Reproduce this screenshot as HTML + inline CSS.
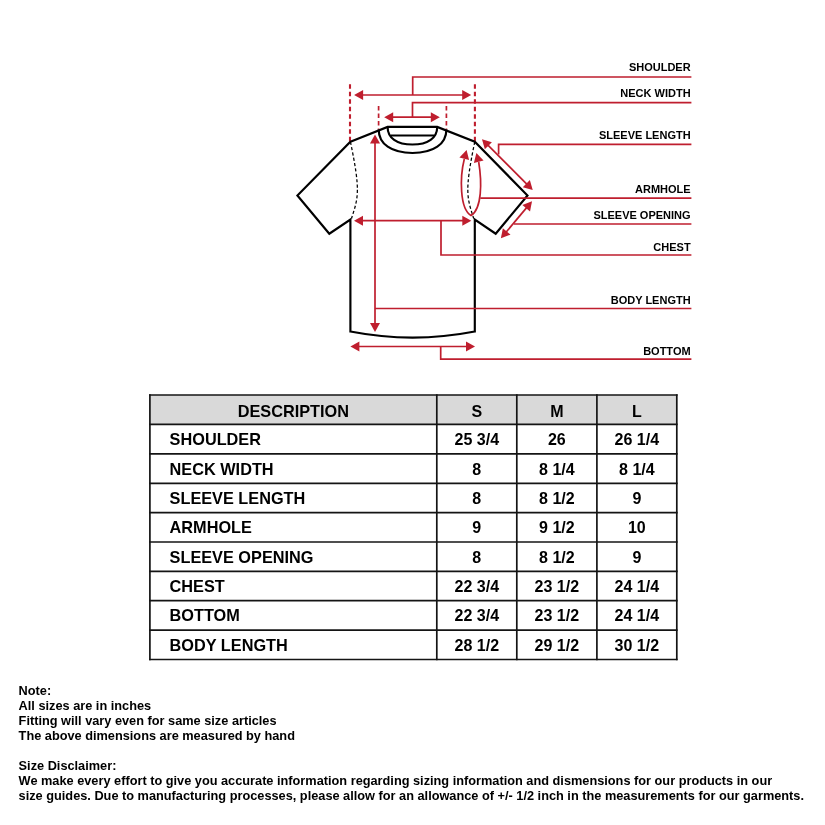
<!DOCTYPE html>
<html><head><meta charset="utf-8"><style>
html,body{margin:0;padding:0;background:#fff;width:825px;height:825px;overflow:hidden;position:relative}
body{will-change:transform}
*{font-family:"Liberation Sans",sans-serif;font-weight:bold;color:#000}
svg{position:absolute;left:0;top:0}
.lab{position:absolute;right:134.39999999999998px;font-size:11px;line-height:14px;height:14px;white-space:nowrap;color:#000}
.cell{position:absolute;font-size:16.3px;line-height:18px;white-space:nowrap;color:#000}
.c{text-align:center;font-size:16px}
.notes{position:absolute;left:18.6px;top:683px;font-size:12.75px;line-height:15px;white-space:nowrap;color:#000}
</style></head><body>
<svg width="825" height="825" viewBox="0 0 825 825">
<line x1="350.0" y1="84.3" x2="350.0" y2="141.5" stroke="#bf1e2e" stroke-width="2.1" stroke-dasharray="4.4 3.1"/><line x1="474.9" y1="84.3" x2="474.9" y2="141.5" stroke="#bf1e2e" stroke-width="2.1" stroke-dasharray="4.4 3.1"/><line x1="378.6" y1="106" x2="378.6" y2="129.5" stroke="#bf1e2e" stroke-width="1.7" stroke-dasharray="4.4 3.1"/><line x1="446.4" y1="106" x2="446.4" y2="129.5" stroke="#bf1e2e" stroke-width="1.7" stroke-dasharray="4.4 3.1"/><path d="M350.4,141.7 L387.6,126.9 L437.2,126.9 L474.8,141.7 L527.5,195.5 L495.7,233.7 L474.8,219.5 L474.8,331.5 Q412.6,343.6 350.4,331.5 L350.4,219.5 L329.3,233.7 L297.4,195.5 Z" fill="none" stroke="#000" stroke-width="2.15" stroke-linejoin="miter"/><path d="M387.6,126.9 C387.6,137.8 396.8,144.5 412.4,144.5 C428,144.5 437.2,137.8 437.2,126.9" fill="none" stroke="#000" stroke-width="2.15"/><path d="M378.7,129.5 C378.7,144.1 391.5,153 412.5,153 C433.5,153 446.4,144.1 446.4,129.5" fill="none" stroke="#000" stroke-width="2.15"/><line x1="391" y1="135.5" x2="434" y2="135.5" stroke="#000" stroke-width="2.15"/><path d="M350.4,141.7 C361,192 358,198 351.5,218.5" fill="none" stroke="#000" stroke-width="1.25" stroke-dasharray="3.2 2.2"/><path d="M474.8,141.7 C464.2,192 467.2,198 473.7,218.5" fill="none" stroke="#000" stroke-width="1.25" stroke-dasharray="3.2 2.2"/><line x1="362.10" y1="95.00" x2="463.20" y2="95.00" stroke="#bf1e2e" stroke-width="1.7"/><polygon points="354.10,95.00 363.10,90.00 363.10,100.00" fill="#bf1e2e"/><polygon points="471.20,95.00 462.20,100.00 462.20,90.00" fill="#bf1e2e"/><line x1="392.20" y1="117.20" x2="431.80" y2="117.20" stroke="#bf1e2e" stroke-width="1.7"/><polygon points="384.20,117.20 393.20,112.20 393.20,122.20" fill="#bf1e2e"/><polygon points="439.80,117.20 430.80,122.20 430.80,112.20" fill="#bf1e2e"/><line x1="375.00" y1="142.50" x2="375.00" y2="324.00" stroke="#bf1e2e" stroke-width="1.7"/><polygon points="375.00,134.50 380.00,143.50 370.00,143.50" fill="#bf1e2e"/><polygon points="375.00,332.00 370.00,323.00 380.00,323.00" fill="#bf1e2e"/><line x1="362.00" y1="220.70" x2="463.30" y2="220.70" stroke="#bf1e2e" stroke-width="1.7"/><polygon points="354.00,220.70 363.00,215.70 363.00,225.70" fill="#bf1e2e"/><polygon points="471.30,220.70 462.30,225.70 462.30,215.70" fill="#bf1e2e"/><line x1="358.40" y1="346.50" x2="467.00" y2="346.50" stroke="#bf1e2e" stroke-width="1.7"/><polygon points="350.40,346.50 359.40,341.50 359.40,351.50" fill="#bf1e2e"/><polygon points="475.00,346.50 466.00,351.50 466.00,341.50" fill="#bf1e2e"/><line x1="487.66" y1="144.96" x2="527.04" y2="184.34" stroke="#bf1e2e" stroke-width="1.7"/><polygon points="482.00,139.30 491.90,142.13 484.83,149.20" fill="#bf1e2e"/><polygon points="532.70,190.00 522.80,187.17 529.87,180.10" fill="#bf1e2e"/><line x1="526.85" y1="207.42" x2="506.05" y2="232.18" stroke="#bf1e2e" stroke-width="1.7"/><polygon points="532.00,201.30 530.04,211.41 522.38,204.97" fill="#bf1e2e"/><polygon points="500.90,238.30 502.86,228.19 510.52,234.63" fill="#bf1e2e"/><path d="M464.3,159 C459.8,177 459.5,209 471,215.5 C482,209 482,182 478.7,162" fill="none" stroke="#bf1e2e" stroke-width="1.7"/><polygon points="466.60,150.10 469.08,160.09 459.43,157.49" fill="#bf1e2e"/><polygon points="476.40,153.00 483.55,160.41 473.89,162.98" fill="#bf1e2e"/><polyline points="412.7,95 412.7,77 691.4,77" fill="none" stroke="#bf1e2e" stroke-width="1.7"/><polyline points="412.5,117.2 412.5,102.7 691.4,102.7" fill="none" stroke="#bf1e2e" stroke-width="1.7"/><polyline points="498.6,154.5 498.6,144.4 691.4,144.4" fill="none" stroke="#bf1e2e" stroke-width="1.7"/><polyline points="480.3,198.2 691.4,198.2" fill="none" stroke="#bf1e2e" stroke-width="1.7"/><polyline points="514,224 691.4,224" fill="none" stroke="#bf1e2e" stroke-width="1.7"/><polyline points="441,220.7 441,255 691.4,255" fill="none" stroke="#bf1e2e" stroke-width="1.7"/><polyline points="375,308.5 691.4,308.5" fill="none" stroke="#bf1e2e" stroke-width="1.7"/><polyline points="440.7,346.5 440.7,359.2 691.4,359.2" fill="none" stroke="#bf1e2e" stroke-width="1.7"/>
<rect x="149.9" y="395" width="526.9" height="29.30000000000001" fill="#d9d9d9"/><line x1="149.1" y1="395" x2="677.5999999999999" y2="395" stroke="#141414" stroke-width="1.7"/><line x1="149.1" y1="424.3" x2="677.5999999999999" y2="424.3" stroke="#141414" stroke-width="1.7"/><line x1="149.1" y1="453.8" x2="677.5999999999999" y2="453.8" stroke="#141414" stroke-width="1.7"/><line x1="149.1" y1="483.3" x2="677.5999999999999" y2="483.3" stroke="#141414" stroke-width="1.7"/><line x1="149.1" y1="512.6" x2="677.5999999999999" y2="512.6" stroke="#141414" stroke-width="1.7"/><line x1="149.1" y1="542" x2="677.5999999999999" y2="542" stroke="#141414" stroke-width="1.7"/><line x1="149.1" y1="571.3" x2="677.5999999999999" y2="571.3" stroke="#141414" stroke-width="1.7"/><line x1="149.1" y1="600.7" x2="677.5999999999999" y2="600.7" stroke="#141414" stroke-width="1.7"/><line x1="149.1" y1="630.2" x2="677.5999999999999" y2="630.2" stroke="#141414" stroke-width="1.7"/><line x1="149.1" y1="659.5" x2="677.5999999999999" y2="659.5" stroke="#141414" stroke-width="1.7"/><line x1="149.9" y1="394.2" x2="149.9" y2="660.3" stroke="#141414" stroke-width="1.7"/><line x1="436.8" y1="394.2" x2="436.8" y2="660.3" stroke="#141414" stroke-width="1.7"/><line x1="516.8" y1="394.2" x2="516.8" y2="660.3" stroke="#141414" stroke-width="1.7"/><line x1="596.9" y1="394.2" x2="596.9" y2="660.3" stroke="#141414" stroke-width="1.7"/><line x1="676.8" y1="394.2" x2="676.8" y2="660.3" stroke="#141414" stroke-width="1.7"/>
</svg>
<div class="lab" style="top:60px">SHOULDER</div><div class="lab" style="top:86px">NECK WIDTH</div><div class="lab" style="top:128px">SLEEVE LENGTH</div><div class="lab" style="top:182px">ARMHOLE</div><div class="lab" style="top:208px">SLEEVE OPENING</div><div class="lab" style="top:240px">CHEST</div><div class="lab" style="top:293px">BODY LENGTH</div><div class="lab" style="top:344px">BOTTOM</div>
<div class="cell c" style="left:149.9px;width:286.9px;top:402.04999999999995px;font-size:16.3px;">DESCRIPTION</div><div class="cell c" style="left:436.8px;width:79.99999999999994px;top:402.65px;">S</div><div class="cell c" style="left:516.8px;width:80.10000000000002px;top:402.65px;">M</div><div class="cell c" style="left:596.9px;width:79.89999999999998px;top:402.65px;">L</div><div class="cell" style="left:169.6px;top:430.05px">SHOULDER</div><div class="cell c" style="left:436.8px;width:79.99999999999994px;top:431.05px">25 3/4</div><div class="cell c" style="left:516.8px;width:80.10000000000002px;top:431.05px">26</div><div class="cell c" style="left:596.9px;width:79.89999999999998px;top:431.05px">26 1/4</div><div class="cell" style="left:169.6px;top:459.55px">NECK WIDTH</div><div class="cell c" style="left:436.8px;width:79.99999999999994px;top:460.55px">8</div><div class="cell c" style="left:516.8px;width:80.10000000000002px;top:460.55px">8 1/4</div><div class="cell c" style="left:596.9px;width:79.89999999999998px;top:460.55px">8 1/4</div><div class="cell" style="left:169.6px;top:488.95000000000005px">SLEEVE LENGTH</div><div class="cell c" style="left:436.8px;width:79.99999999999994px;top:489.95000000000005px">8</div><div class="cell c" style="left:516.8px;width:80.10000000000002px;top:489.95000000000005px">8 1/2</div><div class="cell c" style="left:596.9px;width:79.89999999999998px;top:489.95000000000005px">9</div><div class="cell" style="left:169.6px;top:518.3px">ARMHOLE</div><div class="cell c" style="left:436.8px;width:79.99999999999994px;top:519.3px">9</div><div class="cell c" style="left:516.8px;width:80.10000000000002px;top:519.3px">9 1/2</div><div class="cell c" style="left:596.9px;width:79.89999999999998px;top:519.3px">10</div><div class="cell" style="left:169.6px;top:547.65px">SLEEVE OPENING</div><div class="cell c" style="left:436.8px;width:79.99999999999994px;top:548.65px">8</div><div class="cell c" style="left:516.8px;width:80.10000000000002px;top:548.65px">8 1/2</div><div class="cell c" style="left:596.9px;width:79.89999999999998px;top:548.65px">9</div><div class="cell" style="left:169.6px;top:577.0px">CHEST</div><div class="cell c" style="left:436.8px;width:79.99999999999994px;top:578.0px">22 3/4</div><div class="cell c" style="left:516.8px;width:80.10000000000002px;top:578.0px">23 1/2</div><div class="cell c" style="left:596.9px;width:79.89999999999998px;top:578.0px">24 1/4</div><div class="cell" style="left:169.6px;top:606.45px">BOTTOM</div><div class="cell c" style="left:436.8px;width:79.99999999999994px;top:607.45px">22 3/4</div><div class="cell c" style="left:516.8px;width:80.10000000000002px;top:607.45px">23 1/2</div><div class="cell c" style="left:596.9px;width:79.89999999999998px;top:607.45px">24 1/4</div><div class="cell" style="left:169.6px;top:635.85px">BODY LENGTH</div><div class="cell c" style="left:436.8px;width:79.99999999999994px;top:636.85px">28 1/2</div><div class="cell c" style="left:516.8px;width:80.10000000000002px;top:636.85px">29 1/2</div><div class="cell c" style="left:596.9px;width:79.89999999999998px;top:636.85px">30 1/2</div>
<div class="notes">Note:<br>All sizes are in inches<br>Fitting will vary even for same size articles<br>The above dimensions are measured by hand<br>&nbsp;<br>Size Disclaimer:<br>We make every effort to give you accurate information regarding sizing information and dismensions for our products in our<br>size guides. Due to manufacturing processes, please allow for an allowance of +/- 1/2 inch in the measurements for our garments.</div>
</body></html>
